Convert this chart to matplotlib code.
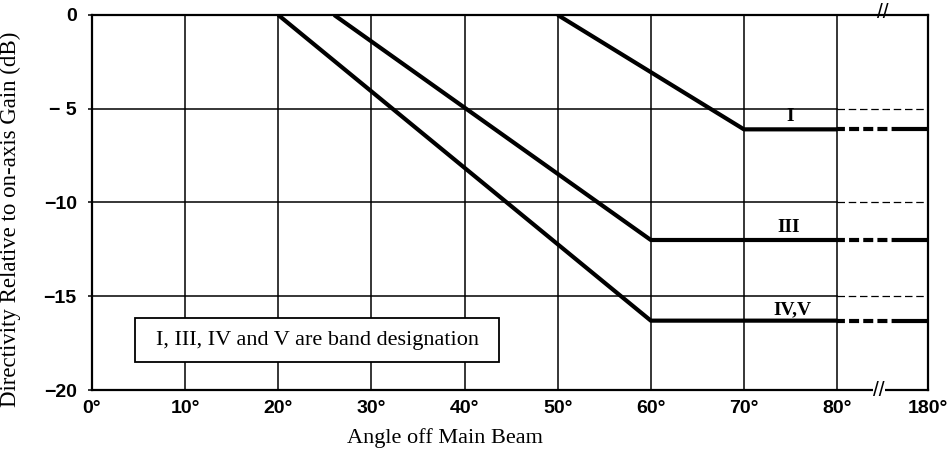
import numpy as np
import matplotlib
matplotlib.use("Agg")
import matplotlib.pyplot as plt
from matplotlib.patches import Rectangle

# band curves (angle in degrees, directivity in dB)
band_I_x = [50, 70, 80]
band_I_y = [0, -6.1, -6.1]
band_III_x = [26, 60, 80]
band_III_y = [0, -12.0, -12.0]
band_IV_x = [20, 60, 80]
band_IV_y = [0, -16.3, -16.3]
tail_x = [80, 180]

band_labels = ["I", "III", "IV,V"]
label_x = [75, 74.8, 75.2]
label_y = [-5.4, -11.35, -15.7]

x_ticks = [0, 10, 20, 30, 40, 50, 60, 70, 80, 180]
x_ticklabels = ["0°", "10°", "20°", "30°", "40°", "50°", "60°", "70°", "80°", "180°"]
y_ticks = [0, -5, -10, -15, -20]
y_ticklabels = ["0", "− 5", "−10", "−15", "−20"]

SQUEEZE = 0.0975  # 80..180 compressed into one short segment


def fwd(x):
    x = np.asarray(x, dtype=float)
    return np.where(x <= 80, x, 80 + (x - 80) * SQUEEZE)


def inv(u):
    u = np.asarray(u, dtype=float)
    return np.where(u <= 80, u, 80 + (u - 80) / SQUEEZE)


fig = plt.figure(figsize=(9.51, 4.53), dpi=100)
ax = fig.add_axes([0.0967, 0.139, 0.879, 0.828])
ax.set_xscale("function", functions=(fwd, inv))
ax.set_xlim(0, 180)
ax.set_ylim(-20, 0)

# grid: solid up to 80°, dashed in the broken section
for gx in x_ticks[1:-1]:
    ax.plot([gx, gx], [-20, 0], color="black", lw=1.1, zorder=1)
for gy in y_ticks[1:-1]:
    ax.plot([0, 80], [gy, gy], color="black", lw=1.1, zorder=1)
    ax.plot(tail_x, [gy, gy], color="black", lw=0.9, ls=(0, (6, 3)), zorder=1)

tail_style = (0, (1.9, 1, 2.4, 1, 2.4, 1, 2.4, 1, 20, 1))
for xs, ys in [(band_I_x, band_I_y), (band_III_x, band_III_y), (band_IV_x, band_IV_y)]:
    ax.plot(xs, ys, color="black", lw=3, solid_capstyle="butt", zorder=3)
    ax.plot(tail_x, [ys[-1], ys[-1]], color="black", lw=3, ls=tail_style, zorder=3)

for lab, lx, ly in zip(band_labels, label_x, label_y):
    ax.text(lx, ly, lab, fontsize=14, fontweight="bold", family="Liberation Serif",
            ha="center", va="center", zorder=4)

# note box
ax.add_patch(Rectangle((4.6, -18.5), 39.1, 2.32, facecolor="white", edgecolor="black",
                       lw=1.3, zorder=5))
ax.text(24.2, -17.34, "I, III, IV and V are band designation", fontsize=16,
        family="Liberation Serif", ha="center", va="center", zorder=6)

# axis break marks
ax.text(130, 0.15, "//", fontsize=15, family="Liberation Sans",
        ha="center", va="center", zorder=6, clip_on=False)
ax.text(126, -20, "//", fontsize=15, family="Liberation Sans",
        ha="center", va="center", zorder=6, clip_on=False,
        bbox=dict(facecolor="white", edgecolor="none", pad=0))

for s in ax.spines.values():
    s.set_linewidth(1.6)

ax.set_xticks(x_ticks)
ax.set_xticklabels(x_ticklabels)
ax.set_yticks(y_ticks)
ax.set_yticklabels(y_ticklabels)
ax.minorticks_off()
ax.tick_params(axis="x", length=0, pad=7)
ax.tick_params(axis="y", length=3, width=1.1, pad=8)
for t in ax.get_xticklabels() + ax.get_yticklabels():
    t.set_fontfamily("Liberation Sans")
    t.set_fontweight("bold")
    t.set_fontsize(14)

ax.set_xlabel("Angle off Main Beam", fontsize=16, family="Liberation Serif")
ax.set_ylabel("Directivity Relative to on-axis Gain (dB)", fontsize=16.5,
              family="Liberation Serif")
ax.xaxis.set_label_coords(0.422, -0.101)
ax.yaxis.set_label_coords(-0.085, 0.455)

fig.savefig("out.png", dpi=100)
